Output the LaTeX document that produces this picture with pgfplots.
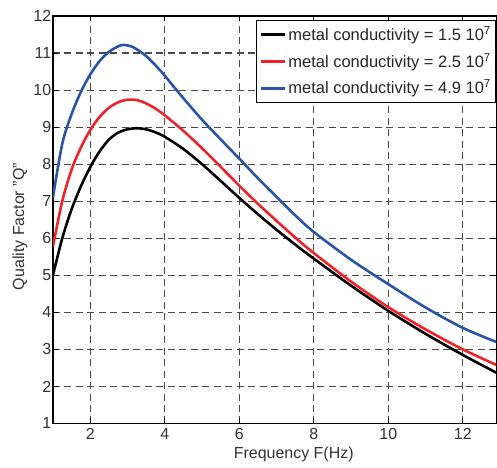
\documentclass[border=0pt]{standalone}
\usepackage{fontspec}
\setmainfont{Liberation Sans}
\usepackage{pgfplots}
\pgfplotsset{compat=1.18}
\definecolor{QBlack}{HTML}{000000}
\definecolor{QRed}{HTML}{EE2229}
\definecolor{QBlue}{HTML}{2A54A8}
\definecolor{GridGray}{HTML}{4A4A4A}

\begin{document}
\fontsize{16}{19}\selectfont
\begin{tikzpicture}
\begin{axis}[
  scale only axis,
  width=444pt, height=408pt,
  xmin=1, xmax=12.9,
  ymin=1, ymax=12,
  xtick={2,4,6,8,10,12},
  ytick={1,2,...,12},
  /pgf/number format/assume math mode=true,
  tick label style={font=\fontsize{16}{19}\selectfont, text=black!80},
  yticklabel style={inner sep=1.5pt},
  xticklabel style={inner sep=1pt, yshift=-4pt},
  label style={font=\fontsize{16}{19}\selectfont, text=black!80},
  xlabel={Frequency F(Hz)},
  ylabel={Quality Factor "Q"},
  xlabel style={at={(axis description cs:0.543,-0.076)}, anchor=center},
  ylabel style={at={(axis description cs:-0.074,0.483)}, anchor=center},
  axis line style={line width=1.2pt},
  major tick length=5pt,
  tick style={line width=1pt, black},
  grid=major,
  major grid style={dash pattern=on 7pt off 4.5pt, line width=1.1pt, GridGray},
  legend cell align=left,
  legend style={at={(rel axis cs:1,0.99)}, anchor=north east,
    font=\fontsize{16.5}{19}\selectfont, text=black!85,
    draw=black, line width=1pt, row sep=6pt, inner xsep=3pt, inner ysep=4pt},
  legend image code/.code={\draw[#1, line width=3pt] (0pt,0pt) -- (24pt,0pt);},
]
\addplot[QBlack, line width=2.6pt, smooth] coordinates {
  (1,5.0) (1.25,6.0) (1.5,6.78) (1.75,7.4) (2,7.92) (2.25,8.34) (2.5,8.66)
  (2.75,8.85) (3,8.94) (3.25,8.97) (3.5,8.94) (3.75,8.86) (4,8.74)
  (4.5,8.41) (5,8.0) (5.5,7.55) (6,7.09) (6.5,6.65) (7,6.23) (7.5,5.83)
  (8,5.45) (9,4.72) (10,4.04) (11,3.42) (12,2.85) (12.9,2.37)
};
\addlegendentry{metal conductivity = 1.5 10\textsuperscript{7}}
\addplot[QRed, line width=2.6pt, smooth] coordinates {
  (1,5.78) (1.25,7.0) (1.5,7.85) (1.75,8.45) (2,8.92) (2.25,9.27)
  (2.5,9.52) (2.75,9.67) (3,9.74) (3.25,9.73) (3.5,9.64) (3.75,9.5)
  (4,9.32) (4.5,8.9) (5,8.43) (5.5,7.93) (6,7.42) (6.5,6.93) (7,6.47)
  (7.5,6.02) (8,5.6) (9,4.83) (10,4.14) (11,3.54) (12,3.0) (12.9,2.58)
};
\addlegendentry{metal conductivity = 2.5 10\textsuperscript{7}}
\addplot[QBlue, line width=2.6pt, smooth] coordinates {
  (1,7.1) (1.25,8.55) (1.5,9.35) (1.75,9.95) (2,10.42) (2.25,10.78)
  (2.5,11.03) (2.75,11.18) (2.9,11.22) (3.1,11.18) (3.25,11.1) (3.5,10.92)
  (3.75,10.67) (4,10.39) (4.25,10.08) (4.5,9.78) (5,9.2) (5.5,8.67)
  (6,8.15) (6.5,7.62) (7,7.12) (7.5,6.62) (8,6.17) (9,5.42) (10,4.76)
  (11,4.13) (12,3.58) (12.9,3.2)
};
\addlegendentry{metal conductivity = 4.9 10\textsuperscript{7}}
\end{axis}
\path ([xshift=-53pt, yshift=16pt]current axis.north west)
  rectangle ([yshift=-43pt]current axis.south east);
\end{tikzpicture}
\end{document}
